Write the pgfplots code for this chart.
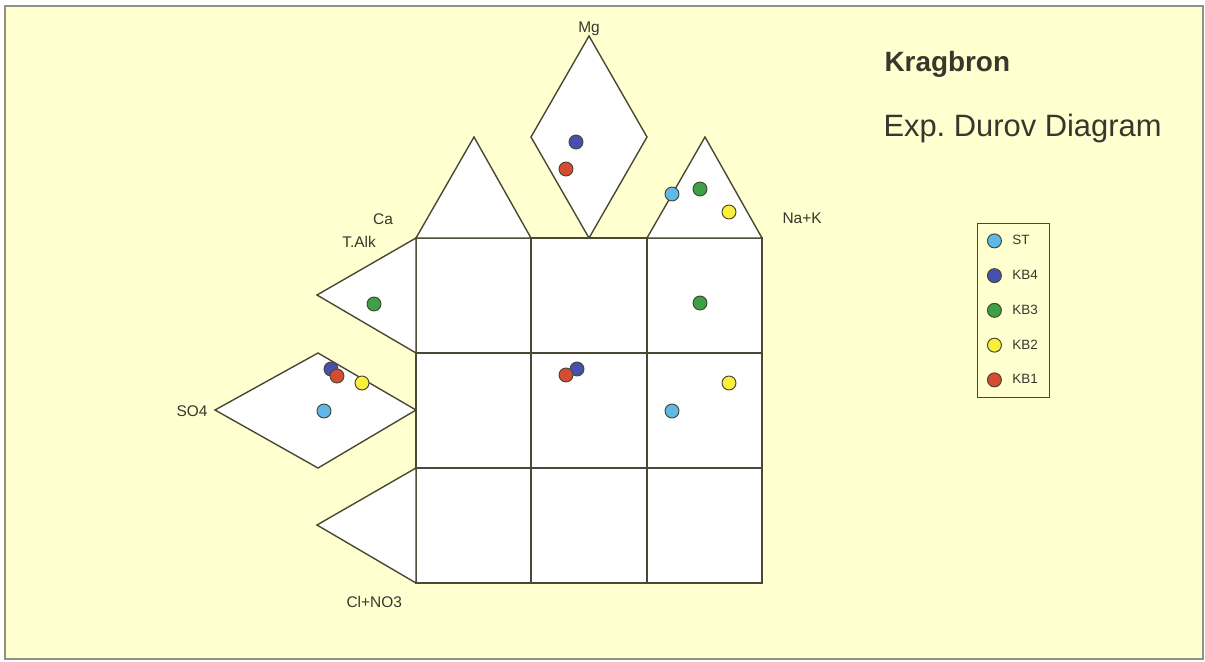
\documentclass[border=0pt]{standalone}
\usepackage{pgfplots}
\pgfplotsset{compat=1.18}
\usepackage{fontspec}
\setmainfont{Liberation Sans}
\frenchspacing
\definecolor{bgyellow}{RGB}{255,255,208}
\definecolor{edge}{RGB}{72,72,52}
\definecolor{txt}{RGB}{55,55,45}
\definecolor{cST}{RGB}{95,185,230}
\definecolor{cKB4}{RGB}{70,80,175}
\definecolor{cKB3}{RGB}{60,160,70}
\definecolor{cKB2}{RGB}{250,240,60}
\definecolor{cKB1}{RGB}{215,75,50}

\pgfplotsset{
  piece/.style={draw=edge, line width=1.4pt, fill=white, forget plot, line join=miter},
  pt/.style={only marks, mark=*, mark size=7pt,
    mark options={fill=#1, draw=edge, line width=1pt},
    legend image code/.code={\draw[mark=*, mark size=7pt, mark options={fill=#1, draw=edge, line width=1pt}] plot coordinates {(0pt,0pt)};}},
}

\begin{document}
\begin{tikzpicture}
\begin{axis}[
  width=1205bp, height=661bp, scale only axis,
  xmin=0, xmax=1205, ymin=0, ymax=661, y dir=reverse,
  axis lines=none, clip=false,
  legend style={at={(axis cs:977,223)}, anchor=north west,
    draw=edge, line width=1pt, fill=none,
    font=\fontsize{13.5}{13.5}\selectfont, text=txt,
    inner xsep=10pt, inner ysep=10pt, row sep=20pt, column sep=9pt},
  legend cell align=left,
]
% full picture extent
\path (0,0) rectangle (1205,661);
% frame
\addplot[draw=edge!60, line width=1.5pt, fill=bgyellow, forget plot]
  coordinates {(5,6)(1203,6)(1203,659)(5,659)(5,6)(1203,6)};

% square grid
\addplot[piece] coordinates {(416,238)(762,238)(762,583)(416,583)(416,238)(762,238)};
\addplot[draw=edge, line width=1.4pt, forget plot] coordinates {(531,238)(531,583)};
\addplot[draw=edge, line width=1.4pt, forget plot] coordinates {(647,238)(647,583)};
\addplot[draw=edge, line width=1.4pt, forget plot] coordinates {(416,353)(762,353)};
\addplot[draw=edge, line width=1.4pt, forget plot] coordinates {(416,468)(762,468)};

% top triangles and Mg diamond
\addplot[piece] coordinates {(416,238)(474,137)(531,238)(416,238)(474,137)};
\addplot[piece] coordinates {(589,238)(531,137)(589,36)(647,137)(589,238)(531,137)};
\addplot[piece] coordinates {(647,238)(705,137)(762,238)(647,238)(705,137)};

% left triangles and SO4 diamond
\addplot[piece] coordinates {(416,238)(317,295)(416,353)(416,238)(317,295)};
\addplot[piece] coordinates {(416,410)(318,353)(215,410)(318,468)(416,410)(318,353)};
\addplot[piece] coordinates {(416,468)(317,525)(416,583)(416,468)(317,525)};

% samples
\addplot[pt=cST]  coordinates {(672,194)(324,411)(672,411)};
\addplot[pt=cKB4] coordinates {(576,142)(331,369)(577,369)};
\addplot[pt=cKB3] coordinates {(700,189)(374,304)(700,303)};
\addplot[pt=cKB2] coordinates {(729,212)(362,383)(729,383)};
\addplot[pt=cKB1] coordinates {(566,169)(337,376)(566,375)};
\legend{ST,KB4,KB3,KB2,KB1}

% axis labels
\node[anchor=base, text=txt, font=\fontsize{15.5}{15.5}\selectfont] at (589,33) {Mg};
\node[anchor=base, text=txt, font=\fontsize{15.5}{15.5}\selectfont] at (383,224) {Ca};
\node[anchor=base, text=txt, font=\fontsize{15.5}{15.5}\selectfont] at (359,247) {T.Alk};
\node[anchor=base west, text=txt, font=\fontsize{15.5}{15.5}\selectfont] at (779,223) {Na+K};
\node[anchor=base west, text=txt, font=\fontsize{15.5}{15.5}\selectfont] at (173,416) {SO4};
\node[anchor=base west, text=txt, font=\fontsize{15.5}{15.5}\selectfont] at (343,607) {Cl+NO3};

% titles
\node[anchor=base west, text=txt, font=\fontsize{28}{28}\selectfont\bfseries] at (881,72) {Kragbron};
\node[anchor=base west, text=txt, font=\fontsize{31}{31}\selectfont] at (880,136) {Exp. Durov Diagram};
\end{axis}
\end{tikzpicture}
\end{document}
